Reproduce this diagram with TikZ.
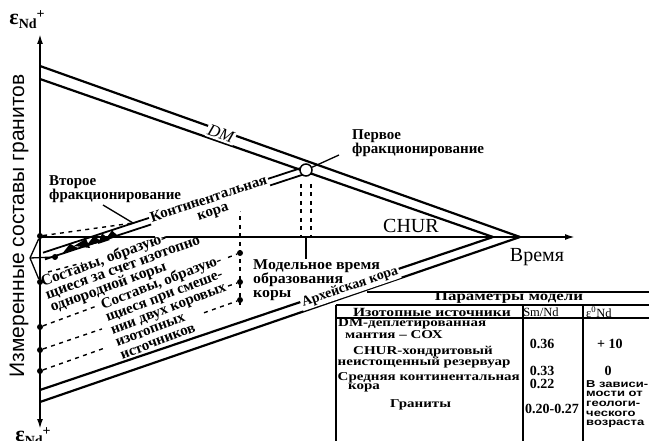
\documentclass[tikz,border=0pt]{standalone}
\usepackage{fontspec}
\setmainfont{Liberation Serif}
\newfontfamily\axisfont{Liberation Sans}
\newfontfamily\widefont[FakeStretch=1.06]{Liberation Serif}
\newfontfamily\tabfont[FakeStretch=1.25]{Liberation Serif}
\newfontfamily\notefont[FakeStretch=1.3]{Liberation Sans}
\usetikzlibrary{arrows.meta}
\usetikzlibrary{positioning}
\usetikzlibrary{calc}
\tikzset{>={Latex[length=10pt,width=6pt]}}

\begin{document}
\begin{tikzpicture}[x=1pt, y=-1pt,
    band/.style={line width=2.2pt},
    crust/.style={line width=1.8pt},
    onband/.style={fill=white, inner sep=1.5pt},
    lbl/.style={font=\bfseries\fontsize{15}{14}\selectfont, inner sep=0pt, align=left},
    blob/.style={circle, fill=black, inner sep=0pt, minimum size=6pt},
    dsh/.style={line width=1.4pt, dash pattern=on 4pt off 4.5pt},
    cell/.style={font=\tabfont\bfseries\fontsize{12}{11}\selectfont, inner sep=0pt, anchor=west},
    num/.style={font=\bfseries\fontsize{14}{14}\selectfont, inner sep=0pt},
    note/.style={font=\notefont\bfseries\fontsize{10}{10}\selectfont, inner sep=0pt, anchor=west},
    rule/.style={line width=1.1pt}]
  \useasboundingbox (0,0) rectangle (649,441);

  % axes
  \coordinate (O) at (40,237);
  \draw[line width=1.8pt, <->] (40,429) -- (40,34);
  \draw[line width=1.8pt, ->] (O) -- (575,237);
  \node[font=\bfseries\fontsize{22}{22}\selectfont, inner sep=0pt] (epsup) at (27,20)
    {ε\raisebox{-4pt}{\fontsize{14}{14}\selectfont Nd}\raisebox{6pt}{\fontsize{14}{14}\selectfont +}};
  \node[font=\bfseries\fontsize{22}{22}\selectfont, inner sep=0pt] (epsdown) at (33,437)
    {ε\raisebox{-4pt}{\fontsize{14}{14}\selectfont Nd}\raisebox{6pt}{\fontsize{14}{14}\selectfont +}};
  \node[font=\axisfont\fontsize{21}{21}\selectfont, rotate=90, inner sep=0pt] (ylab) at (19,226)
    {Измеренные составы гранитов};
  \node[font=\fontsize{20}{20}\selectfont, inner sep=0pt] (time) at (537,257) {Время};
  \node[font=\fontsize{20}{20}\selectfont, inner sep=0pt] (chur) at (411,226) {CHUR};

  % DM and archean bands
  \draw[band] (40,66) -- (520,237);
  \draw[band] (40,79) -- (493,237);
  \draw[band] (40,390) -- (493,237);
  \draw[band] (40,402) -- (520,237);

  % continental band
  \draw[crust] (43,252.7) -- (305,166.7);
  \draw[crust] (45,259.3) -- (307,173.3);
  \fill (62,254) -- (70,243.8) -- (78,248.1) -- cycle;
  \fill (74,246) -- (86,238.6) -- (90,248) -- cycle;
  \fill (86,246) -- (94,236) -- (102,242) -- cycle;
  \fill (98,244) -- (102,233.3) -- (110,240) -- cycle;
  \fill (104,241) -- (112,230.5) -- (118,236) -- cycle;
  \coordinate (frac2) at (133,223);

  % measured compositions
  \node[blob] (a1) at (40,236) {};
  \node[blob] (a2) at (40,282) {};
  \node[blob] (a3) at (40,327) {};
  \node[blob] (a4) at (40,350) {};
  \node[blob] (a5) at (40,371) {};
  \node[blob] (c0) at (55,257) {};
  \node[blob] (b1) at (240,253) {};
  \node[blob] (b2) at (240,282) {};
  \node[blob] (b3) at (240,300) {};
  \coordinate (apex) at (30,258);
  \draw[line width=1.3pt] (a1) -- (apex) -- (a2);
  \draw[line width=1.3pt] (apex) -- (c0);
  \draw[dsh] (a1) -- (frac2);
  \draw[dsh] (a3) -- ($(a3)!0.29!(b1)$);
  \draw[dsh] ($(a3)!0.94!(b1)$) -- (b1);
  \draw[dsh] (a4) -- ($(a4)!0.31!(b2)$);
  \draw[dsh] ($(a4)!0.94!(b2)$) -- (b2);
  \draw[dsh] (a5) -- ($(a5)!0.33!(b3)$);
  \draw[dsh] ($(a5)!0.82!(b3)$) -- (b3);
  \draw[dsh] (240,208) -- (240,308);
  \draw[dsh] (48,272) -- (82,263);

  % band labels
  \node[onband, rotate=-19.6, font=\itshape\fontsize{17}{17}\selectfont] (dm) at (221,134) {DM};
  \node[onband, rotate=18.2, align=center, font=\bfseries\fontsize{15}{13}\selectfont] (cont) at (211,206) {Континентальная\\кора};
  \node[onband, rotate=18.8, font=\bfseries\fontsize{14}{14}\selectfont] (arch) at (350,287) {Архейская кора};

  % first fractionation
  \node[circle, draw, fill=white, line width=1.5pt, minimum size=12pt, inner sep=0pt] (frac1) at (306,170) {};
  \draw[dsh, line width=1.7pt] (301,184) -- (301,236);
  \draw[dsh, line width=1.7pt] (311,184) -- (311,236);
  \node[lbl, font=\widefont\bfseries\fontsize{15}{13.5}\selectfont, anchor=north west] (model) at (253,259) {Модельное время\\образования\\коры};
  \coordinate (mt) at (306,237);
  \draw[line width=1.5pt] (mt) -- (mt |- model.north);

  % labels
  \node[lbl, anchor=north west] (frac1lbl) at (352,129) {Первое\\фракционирование};
  \coordinate (p1) at (339,155);
  \draw[line width=1.3pt] (frac1) -- (p1);
  \node[lbl, anchor=north west] (frac2lbl) at (49,175) {Второе\\фракционирование};
  \coordinate (p2) at (103,205);
  \draw[line width=1.3pt] (p2) -- (frac2);
  \node[lbl, font=\bfseries\fontsize{15.5}{13.5}\selectfont, rotate=20, anchor=north west] (compA) at (39,276) {Составы, образую-\\щиеся за счет изотопно\\однородной коры};
  \node[lbl, font=\bfseries\fontsize{15}{13.5}\selectfont, rotate=21, anchor=north west] (compB) at (99,299) {Составы, образую-\\щиеся при смеше-\\нии двух коровых\\изотопных\\источников};

  % table
  \draw[rule] (367,292) -- (649,292);
  \draw[rule, line width=1.6pt] (336,305) -- (649,305);
  \draw[rule] (336,318) -- (649,318);
  \draw[rule] (336,305) -- (336,441);
  \draw[rule] (523,305) -- (523,441);
  \draw[rule] (583,305) -- (583,441);
  \node[font=\tabfont\bfseries\fontsize{13.5}{13}\selectfont, inner sep=0pt] (thead) at (509,298) {Параметры модели};
  \node[font=\tabfont\bfseries\fontsize{12.5}{12}\selectfont, inner sep=0pt] (h1) at (432,312) {Изотопные источники};
  \node[font=\fontsize{12.5}{12}\selectfont, inner sep=0pt] (h2) at (541,312) {Sm/Nd};
  \node[font=\fontsize{12.5}{12}\selectfont, inner sep=0pt, anchor=west] (h3) at (586,312) {ε\textsuperscript{0}Nd};
  \node[cell] (r1a) at (338,324) {DM-деплетированная};
  \node[cell] (r1b) at (345,335) {мантия – СОХ};
  \node[cell] (r2a) at (353,352) {CHUR-хондритовый};
  \node[cell] (r2b) at (337.5,363) {неистощенный резервуар};
  \node[cell] (r3a) at (337.5,378) {Средняя континентальная};
  \node[cell] (r3b) at (348,388) {кора};
  \node[cell] (r4) at (390,405) {Граниты};
  \node[num] (v1) at (542,344) {0.36};
  \node[num] (v2) at (542,371) {0.33};
  \node[num] (v3) at (542,384) {0.22};
  \node[num] (v4) at (552,409) {0.20-0.27};
  \node[num, anchor=west] (e1) at (597,344) {+ 10};
  \node[num] (e2) at (608,371) {0};
  \node[note] (n1) at (586,384) {В зависи-};
  \node[note] (n2) at (586,394) {мости от};
  \node[note] (n3) at (586,404) {геологи-};
  \node[note] (n4) at (586,414) {ческого};
  \node[note] (n5) at (586,424) {возраста};
\end{tikzpicture}
\end{document}
